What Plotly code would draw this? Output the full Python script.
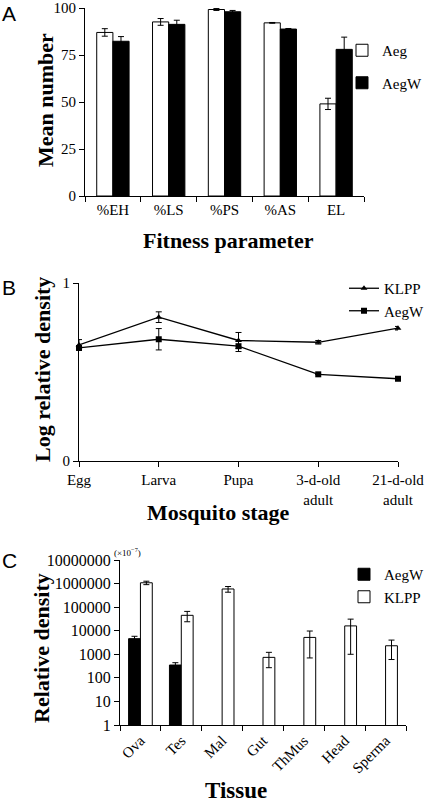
import plotly.graph_objects as go

# ---------- Panel A data ----------
fit_cats = ["%EH", "%LS", "%PS", "%AS", "EL"]
aeg_vals = [87, 92.6, 99.2, 92.1, 49]
aeg_err = [2.0, 1.8, 0.5, 0.2, 3.0]
aegw_vals = [82.3, 91.3, 98.0, 88.8, 78]
aegw_err = [2.5, 2.2, 0.7, 0.3, 6.5]
a_ticks = [0, 25, 50, 75, 100]

# ---------- Panel B data ----------
stages = ["Egg", "Larva", "Pupa", "3-d-old<br>adult", "21-d-old<br>adult"]
stage_pos = [0, 1, 2, 3, 4]
klpp_line = [0.652, 0.808, 0.677, 0.667, 0.746]
klpp_line_err = [0.03, 0.03, 0.045, 0.01, 0.01]
aegw_line = [0.635, 0.684, 0.645, 0.487, 0.462]
aegw_line_err = [0.0, 0.06, 0.03, 0.0, 0.0]

# ---------- Panel C data ----------
tissues = ["Ova", "Tes", "Mal", "Gut", "ThMus", "Head", "Sperma"]
aegw_tis = [4600, 350, None, None, None, None, None]
aegw_tis_err = [1200, 90, 0, 0, 0, 0, 0]
klpp_tis = [1080000, 45000, 590000, 740, 5200, 16000, 2300]
klpp_tis_err = [180000, 21000, 160000, 470, 4500, 15000, 1700]
c_tickvals = [1, 10, 100, 1000, 10000, 100000, 1000000, 10000000]
c_ticktext = [str(v) for v in c_tickvals]

W, H = 425, 802
SERIF = "Liberation Serif"
SANS = "Liberation Sans"

def px(x):
    return x / W

def py(y):
    return 1 - y / H

fig = go.Figure()

err_style = dict(type="data", thickness=1, width=3, color="black")

# Panel A bars
fig.add_trace(go.Bar(x=fit_cats, y=aeg_vals, name="Aeg",
                     marker=dict(color="white", line=dict(color="black", width=1)),
                     error_y=dict(array=aeg_err, **err_style),
                     xaxis="x", yaxis="y", legend="legend", legendgroup="a1"))
fig.add_trace(go.Bar(x=fit_cats, y=aegw_vals, name="AegW",
                     marker=dict(color="black", line=dict(color="black", width=1)),
                     error_y=dict(array=aegw_err, **err_style),
                     xaxis="x", yaxis="y", legend="legend", legendgroup="a2"))

# Panel B lines
fig.add_trace(go.Scatter(x=stage_pos, y=klpp_line, name="KLPP", mode="lines+markers",
                         line=dict(color="black", width=1.3),
                         marker=dict(symbol="triangle-up", size=6, color="black"),
                         error_y=dict(array=klpp_line_err, **err_style),
                         cliponaxis=False, xaxis="x2", yaxis="y2", legend="legend2"))
fig.add_trace(go.Scatter(x=stage_pos, y=aegw_line, name="AegW", mode="lines+markers",
                         line=dict(color="black", width=1.3),
                         marker=dict(symbol="square", size=6, color="black"),
                         error_y=dict(array=aegw_line_err, **err_style),
                         cliponaxis=False, xaxis="x2", yaxis="y2", legend="legend2"))

# Panel C bars
fig.add_trace(go.Bar(x=tissues, y=aegw_tis, name="AegW",
                     marker=dict(color="black", line=dict(color="black", width=1)),
                     error_y=dict(array=aegw_tis_err, **err_style),
                     xaxis="x3", yaxis="y3", legend="legend3"))
fig.add_trace(go.Bar(x=tissues, y=klpp_tis, name="KLPP",
                     marker=dict(color="white", line=dict(color="black", width=1)),
                     error_y=dict(array=klpp_tis_err, **err_style),
                     xaxis="x3", yaxis="y3", legend="legend3"))

axis_common = dict(showline=True, linecolor="black", linewidth=1, ticks="outside",
                   ticklen=5, tickcolor="black", showgrid=False, zeroline=False,
                   automargin=False, ticklabeloverflow="allow",
                   tickfont=dict(family=SERIF, size=15, color="black"))

fig.update_layout(
    width=W, height=H, margin=dict(l=0, r=0, t=0, b=0, autoexpand=False),
    paper_bgcolor="white", plot_bgcolor="white",
    barmode="group", bargap=0.42, bargroupgap=0,
    font=dict(family=SERIF, color="black"),
    xaxis=dict(domain=[px(85), px(364)], anchor="y", tickson="boundaries", **axis_common),
    yaxis=dict(domain=[py(196), py(8)], anchor="x", range=[0, 100], tickvals=a_ticks, **axis_common),
    xaxis2=dict(domain=[px(79), px(398)], anchor="y2", range=[0, 4],
                tickvals=stage_pos, ticktext=stages, **axis_common),
    yaxis2=dict(domain=[py(461), py(283)], anchor="x2", range=[0, 1], tickvals=[0, 1], **axis_common),
    xaxis3=dict(domain=[px(120), px(406)], anchor="y3", tickson="boundaries", tickangle=-45,
                **axis_common),
    yaxis3=dict(domain=[py(725), py(560)], anchor="x3", type="log", range=[0, 7],
                tickvals=c_tickvals, ticktext=c_ticktext,
                **{k: v for k, v in axis_common.items() if k != "tickfont"},
                tickfont=dict(family=SERIF, size=16, color="black")),
    legend=dict(x=px(342), y=py(34), xanchor="left", yanchor="top",
                font=dict(family=SERIF, size=15), bgcolor="rgba(0,0,0,0)",
                tracegroupgap=10, traceorder="grouped", itemwidth=30),
    legend2=dict(x=px(344), y=py(272), xanchor="left", yanchor="top",
                 font=dict(family=SERIF, size=15), bgcolor="rgba(0,0,0,0)",
                 tracegroupgap=0, itemwidth=30),
    legend3=dict(x=px(344), y=py(558), xanchor="left", yanchor="top",
                 font=dict(family=SERIF, size=15), bgcolor="rgba(0,0,0,0)",
                 itemwidth=30),
    showlegend=True,
)

def ann(text, x, y, size, bold=True, angle=0, family=SERIF):
    fig.add_annotation(text=f"<b>{text}</b>" if bold else text, x=px(x), y=py(y),
                       xref="paper", yref="paper", showarrow=False, textangle=angle,
                       xanchor="center", yanchor="middle",
                       font=dict(family=family, size=size, color="black"))

# Axis titles
ann("Mean number", 45, 100, 22, angle=-90)
ann("Fitness parameter", 228, 240, 22)
ann("Log relative density", 42, 370, 22, angle=-90)
ann("Mosquito stage", 218, 512, 22)
ann("Relative density", 41, 648, 22, angle=-90)
ann("Tissue", 236, 790, 23)
ann("(×10<sup>−7</sup>)", 127, 552, 9, bold=False)

# Panel letters
ann("A", 9, 13, 21, bold=False, family=SANS)
ann("B", 9, 287, 21, bold=False, family=SANS)
ann("C", 9, 560, 21, bold=False, family=SANS)

fig.write_html("out.html", config={"displayModeBar": False},
               post_script="document.body.style.margin='0';document.body.style.overflow='hidden';")
